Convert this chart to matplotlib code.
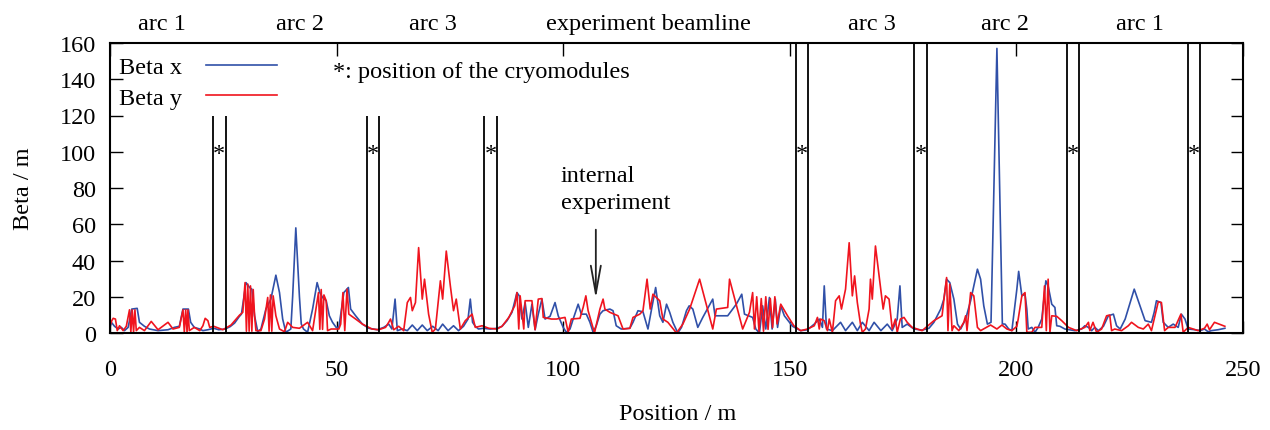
import matplotlib
matplotlib.use('Agg')
import matplotlib.pyplot as plt
import numpy as np

plt.rcParams['font.family'] = ['Liberation Serif', 'DejaVu Serif']
plt.rcParams['font.size'] = 17.5

# (position [m], beta [m])
beta_x = [(0,3.1),(0.3,5.9),(1.0,3.7),(1.8,2.2),(2.5,3.1),(3.2,1.3),(4.0,3.1),(4.8,13.2),(6.0,13.6),(6.5,5.9),
          (7.6,3.7),(8.7,2.2),(10.6,1.3),(12.8,1.8),(14.2,3.1),(15.3,3.7),(16.1,13.2),(17.3,13.2),(17.8,5.9),(18.6,3.1),
          (19.8,2.2),(20.5,1.3),(21.6,1.8),(22.9,2.6),(24.0,1.8),(25.4,2.2),(26.5,3.5),(27.5,5.5),(28.5,9.0),(29.0,10.4),
          (30.0,27.8),(30.8,25.1),(31.3,24.2),(31.9,9.5),(32.6,0.7),(33.3,2.2),(34.4,13.2),(35.5,18.7),(36.6,31.9),(37.4,22.3),
          (38.1,7.7),(38.8,0.4),(39.9,2.2),(40.3,20),(41.0,58),(41.8,20),(42.2,5),(42.7,2.2),(43.6,0.4),(44.7,13.2),
          (45.7,27.8),(46.3,22.3),(46.9,19.6),(47.7,17.8),(48.4,9.5),(49.1,5.9),(49.9,3.1),(50.5,3.1),(51.6,22.3),(52.6,25.1),
          (53.1,13.2),(54.2,9.5),(55.7,4.9),(57.1,2.6),(59.0,1.8),(60.4,3.1),(61.5,4.9),(62.2,2.2),(62.9,18.7),(63.4,1.3),
          (64.5,2.2),(65.6,1.3),(66.7,4.4),(67.8,1.3),(68.9,4.4),(70.0,1.3),(71.2,3.7),(72.4,1.3),(73.4,4.9),(74.6,1.3),
          (75.8,4.0),(76.9,1.3),(78.0,3.7),(79.0,7.7),(79.5,18.7),(80.0,5.9),(80.6,3.7),(81.3,2.2),(82.4,2.6),(83.9,2.2),
          (85.4,2.6),(86.5,3.7),(87.6,6.8),(88.7,11.4),(89.8,22.3),(90.3,20.5),(90.9,7.7),(91.6,16.8),(92.3,3.1),(93.1,15.9),
          (93.8,1.8),(94.5,10.4),(95.3,18.7),(96.0,7.7),(97.1,9.2),(98.2,16.8),(98.9,9.5),(100.0,3.1),(100.7,0.4),(101.5,2.2),
          (102.2,7.7),(103.3,15.9),(104.0,10.4),(105.1,10.4),(105.9,5.9),(106.6,0.4),(107.3,4.0),(108.1,10.4),(108.8,12.3),(110.3,13.2),
          (111.0,12.3),(111.7,4.0),(112.8,2.2),(114.7,2.6),(115.4,5.9),(116.5,12.3),(117.6,11.7),(118.7,2.2),(119.5,13.2),(120.4,25.1),
          (121.3,9.5),(122.0,5.9),(122.8,15.9),(123.5,11.4),(124.2,5.9),(125.3,0.0),(126.1,3.1),(127.2,12.3),(127.8,15.0),(128.6,13.2),
          (129.7,3.1),(130.8,8.6),(133.0,18.7),(133.5,9.5),(136.3,9.5),(138.2,15.9),(139.4,21.4),(140.0,10.4),(141.8,8.6),(142.5,2.2),
          (143.3,0.0),(144.0,15.0),(144.7,2.2),(145.5,19.6),(146.1,2.2),(146.8,18.7),(147.3,3.1),(148.0,15.0),(148.8,9.5),(149.9,5.9),
          (150.6,3.7),(152.4,1.3),(153.9,1.8),(155.4,4.9),(156.5,7.7),(157.2,3.1),(157.6,26.0),(158.1,2.2),(159.4,1.3),(161.2,5.9),
          (162.3,1.3),(163.8,5.9),(164.9,1.3),(166.0,5.9),(167.5,1.3),(168.6,5.9),(170.1,1.3),(171.5,4.9),(172.6,1.3),(173.7,7.7),
          (174.3,26.0),(174.8,3.1),(175.9,4.9),(177.4,2.2),(179.2,1.6),(180.7,2.6),(181.8,5.9),(183.3,13.2),(184.0,18.7),(184.6,29.7),
          (185.3,27.8),(186.2,18.7),(187.0,4.9),(187.7,2.2),(188.8,7.7),(189.9,17.8),(191.4,35.2),(192.1,29.7),(192.8,15.0),(193.6,4.9),
          (194.4,5.9),(195.7,157),(196.9,5.0),(197.5,4.9),(198.3,2.2),(199.0,1.3),(200.1,24.2),(200.5,34.0),(201.2,20.5),(201.9,21.4),
          (202.3,13.2),(202.6,2.2),(203.4,3.1),(204.1,0.4),(204.8,3.1),(205.6,7.7),(206.5,28.8),(207.0,26.0),(207.8,15.9),(208.5,14.1),
          (208.9,4.0),(209.6,3.7),(210.7,2.2),(212.9,1.3),(214.4,2.2),(215.1,4.0),(215.9,3.1),(216.6,1.3),(217.3,3.1),(218.1,1.3),
          (219.2,3.7),(220.3,9.5),(221.4,10.4),(222.1,4.0),(222.9,2.2),(224.0,7.7),(226.0,24.2),(228.4,6.8),(229.8,5.9),(230.4,11.4),
          (230.9,17.8),(231.9,16.8),(232.4,5.9),(233.5,3.1),(234.6,4.9),(235.7,3.1),(236.4,10.4),(237.2,7.7),(237.9,2.2),(239.4,1.8),
          (240.6,1.3),(241.5,2.2),(242.3,0.7),(243.0,1.3),(244.5,1.8),(246.0,2.6)]

beta_y = [(0,4.0),(0.4,6.8),(0.7,8.1),(1.2,7.7),(1.6,1.3),(2.1,4.0),(2.9,1.3),(3.6,3.7),(4.3,12.8),(4.6,0.5),
          (4.9,12.8),(5.2,0.5),(5.5,12.8),(5.8,1.3),(6.5,3.1),(7.6,1.3),(9.1,6.4),(10.6,1.8),(12.8,5.9),(13.9,2.2),
          (15.3,3.1),(16.1,12.8),(16.4,0.5),(16.7,12.8),(17.0,0.5),(17.2,12.8),(17.5,1.3),(18.6,3.1),(19.8,1.3),(20.5,4.0),
          (21.0,8.1),(21.6,6.8),(22.0,3.1),(22.9,3.7),(24.9,1.8),(26.7,4.4),(28.6,9.9),(29.3,11.4),(29.8,27.8),(30.1,1),
          (30.4,27),(30.7,1),(31.0,26),(31.3,1),(31.6,24),(31.9,9.5),(32.2,1.3),(33.3,1.3),(34.1,7.7),(34.8,19.6),
          (35.1,1),(35.4,21),(35.7,1),(36.0,20.5),(36.6,9.5),(37.4,2.2),(38.5,0.7),(39.2,5.9),(40.3,3.1),(41.8,2.6),
          (43.6,5.9),(44.7,1.3),(46.0,22.3),(46.3,2),(46.6,24),(46.9,2),(47.2,21),(47.7,17.8),(48.0,1.3),(48.8,2.2),
          (49.9,2.2),(50.5,2.2),(50.9,4.9),(51.4,22.3),(51.8,1.3),(52.3,24.2),(52.7,10.4),(54.2,7.7),(55.7,4.9),(57.8,2.2),
          (59.3,1.8),(60.8,3.1),(61.5,5.9),(61.9,7.7),(62.6,1.8),(63.7,3.7),(64.8,1.3),(65.6,16.8),(66.3,19.6),(66.7,12.3),
          (67.4,16.8),(68.1,47.1),(68.9,18.7),(69.4,29.7),(70.3,10.4),(71.1,0.4),(71.8,2.2),(72.9,28.8),(73.4,18.7),(74.2,45.2),
          (75.1,26.0),(75.8,12.3),(76.4,18.7),(77.3,2.2),(78.4,6.8),(79.9,10.4),(80.6,3.1),(82.1,4.0),(83.6,2.6),(85.4,2.2),
          (86.5,3.7),(88.0,8.6),(89.3,15.0),(89.8,22.3),(90.2,2.2),(90.5,20.5),(91.3,2.2),(91.6,17.8),(93.1,17.8),(93.8,1.8),
          (94.5,18.7),(95.3,19.0),(95.6,8.6),(97.4,7.7),(98.5,7.7),(100.4,8.6),(101.1,0.4),(101.8,7.7),(103.7,8.1),(104.4,14.1),
          (105.0,20.5),(105.5,12.3),(106.9,0.0),(108.1,13.2),(108.8,18.7),(109.2,13.2),(110.3,11.4),(112.1,9.5),(113.2,2.2),(114.7,2.6),
          (115.4,8.6),(116.9,10.4),(117.6,12.3),(118.5,29.7),(119.2,13.2),(119.8,21.4),(121.3,17.8),(122.0,7.7),(123.1,5.9),(125.0,0.0),
          (126.4,4.9),(127.9,13.2),(130.1,29.7),(133.0,2.2),(133.8,13.2),(136.3,14.1),(136.7,29.7),(139.6,2.2),(141.1,11.4),(141.8,22.3),
          (142.2,2.2),(142.7,20),(143.2,1),(143.7,19),(144.2,1),(144.7,20),(145.2,2),(145.7,19),(146.2,3),(146.7,20),
          (147.2,5),(148.0,15.9),(149.5,9.5),(150.9,4.0),(152.4,1.3),(153.9,2.2),(155.4,4.0),(156.1,8.6),(156.5,2.2),(156.8,7.7),
          (157.6,6.8),(158.3,1.3),(158.7,7.7),(159.4,0.4),(160.1,17.8),(160.9,20.5),(161.4,13.2),(162.3,24.2),(163.1,49.8),(163.8,20.5),
          (164.3,31.5),(164.9,16.8),(165.6,4.9),(166.0,0.4),(166.7,2.2),(167.5,13.2),(167.8,29.7),(168.2,18.7),(168.9,48.0),(169.9,27.8),
          (170.6,13.2),(171.1,20.5),(171.9,18.7),(172.6,2.2),(173.3,7.7),(173.7,0.4),(174.4,7.7),(175.2,8.6),(175.9,5.9),(177.0,3.1),
          (179.2,1.3),(181.8,6.8),(183.6,9.5),(184.1,20.5),(184.6,30.6),(184.9,1.3),(185.3,26.9),(185.8,1.3),(186.2,4.0),(187.3,1.3),
          (188.4,5.9),(188.8,9.5),(189.1,1.3),(189.9,22.3),(190.6,20.5),(191.4,3.1),(192.1,1.3),(194.3,4.4),(195.7,2.2),(196.8,4.4),
          (197.9,2.2),(199.0,1.3),(200.1,3.7),(200.4,7.7),(201.2,20.5),(201.9,22.3),(202.3,0.4),(203.4,0.4),(204.1,3.1),(205.6,3.1),
          (206.2,26.0),(206.6,1.3),(207.0,29.7),(207.4,0.4),(207.8,9.5),(208.9,9.2),(210.0,6.8),(211.5,3.1),(213.3,1.3),(215.1,3.1),
          (215.9,5.9),(216.2,1.3),(216.9,5.9),(217.7,0.4),(218.8,2.2),(219.9,9.5),(220.6,9.9),(221.0,1.3),(221.7,2.2),(223.2,1.3),
          (224.7,4.0),(225.4,5.9),(226.9,3.1),(228.0,2.2),(229.1,4.9),(229.8,1.3),(231.3,17.2),(232.0,16.8),(232.7,1.3),(233.5,3.1),
          (235.0,3.1),(236.3,10.4),(236.8,0.4),(237.9,3.1),(240.1,1.3),(241.5,2.6),(242.1,4.9),(242.6,1.8),(243.7,5.9),(246.0,3.7)]

# cryomodule marker lines (pairs) and their heights
cryo_left = [22.7, 56.6, 82.6, 151.3, 177.5, 211.2, 237.9]
cryo_right = [25.5, 59.3, 85.5, 154.0, 180.2, 213.9, 240.5]
cryo_top = [120, 120, 120, 160, 160, 160, 160]

sections = ['arc 1', 'arc 2', 'arc 3', 'experiment beamline', 'arc 3', 'arc 2', 'arc 1']
section_pos = [11.5, 42.0, 71.2, 118.7, 168.2, 197.4, 227.3]

bx = np.array(beta_x)
by = np.array(beta_y)

fig = plt.figure(figsize=(12.7, 4.31), dpi=100)
ax = fig.add_axes([110/1270, 1 - 334/431, (1243 - 110)/1270, (334 - 44)/431])

ax.plot(bx[:, 0], bx[:, 1], color='#3050a8', lw=1.2, label='Beta x')
ax.plot(by[:, 0], by[:, 1], color='#f0141e', lw=1.2, label='Beta y')

ax.vlines(cryo_left, 0, cryo_top, color='black', lw=1.3)
ax.vlines(cryo_right, 0, cryo_top, color='black', lw=1.3)
for l, r in zip(cryo_left, cryo_right):
    ax.text((l + r) / 2, 99, '*', ha='center', va='center', fontsize=17.5)

for name, p in zip(sections, section_pos):
    ax.text(p, 171, name, ha='center', va='center', fontsize=17.5, clip_on=False)

ax.text(49.3, 144, '*: position of the cryomodules', ha='left', va='center', fontsize=17.5)
ax.text(99.5, 79.5, 'internal\nexperiment', ha='left', va='center', fontsize=17.5, linespacing=1.35)
ax.annotate('', xy=(107.2, 19), xytext=(107.2, 57),
            arrowprops=dict(arrowstyle='->,head_length=1.0,head_width=0.18', color='#222222',
                            lw=1.3, mutation_scale=20, shrinkA=0, shrinkB=0))

ax.set_xlim(0, 250)
ax.set_ylim(0, 160)
ax.set_xticks(np.arange(0, 251, 50))
ax.set_yticks(np.arange(0, 161, 20))
ax.tick_params(direction='in', top=True, right=True, length=9, width=1, labelsize=17.5)
ax.tick_params(axis='x', pad=19)
ax.tick_params(axis='y', pad=10)
for s in ax.spines.values():
    s.set_linewidth(1.5)

ax.set_xlabel('Position / m', fontsize=17.5)
ax.set_ylabel('Beta / m', fontsize=17.5)
ax.xaxis.set_label_coords(0.501, -0.24)
ax.yaxis.set_label_coords(-0.067, 0.5)

ax.legend(loc='upper left', bbox_to_anchor=(0.008, 0.955), frameon=False, markerfirst=False,
          handlelength=2.9, handletextpad=1.0, labelspacing=0.35, borderpad=0, borderaxespad=0,
          fontsize=17.5)

fig.savefig('out.png', dpi=100)
